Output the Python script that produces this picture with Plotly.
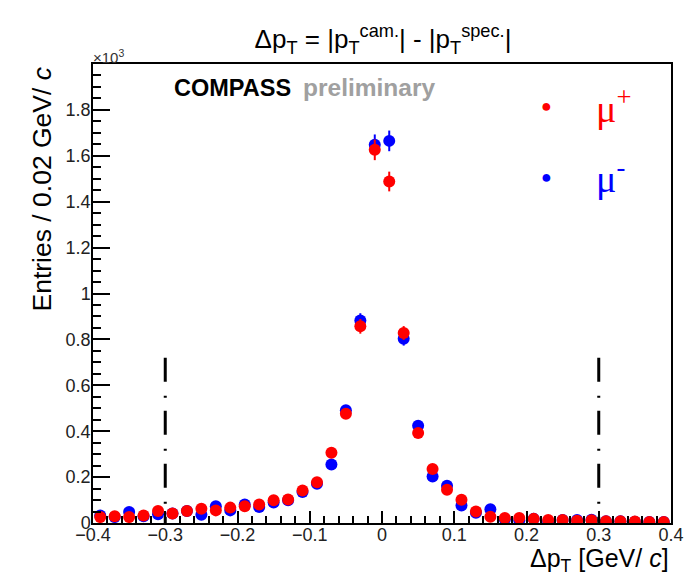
import plotly.graph_objects as go

# ---------------- data (values in units of 10^3 entries) ----------------
bin_centers = [-0.39, -0.37, -0.35, -0.33, -0.31, -0.29, -0.27, -0.25, -0.23, -0.21,
               -0.19, -0.17, -0.15, -0.13, -0.11, -0.09, -0.07, -0.05, -0.03, -0.01,
               0.01, 0.03, 0.05, 0.07, 0.09, 0.11, 0.13, 0.15, 0.17, 0.19,
               0.21, 0.23, 0.25, 0.27, 0.29, 0.31, 0.33, 0.35, 0.37, 0.39]

mu_plus = [0.026, 0.029, 0.026, 0.033, 0.052, 0.041, 0.052, 0.062, 0.055, 0.067,
           0.073, 0.081, 0.099, 0.102, 0.142, 0.178, 0.306, 0.476, 0.857, 1.626,
           1.488, 0.828, 0.392, 0.235, 0.145, 0.101, 0.050, 0.027, 0.022, 0.022,
           0.018, 0.013, 0.013, 0.010, 0.012, 0.008, 0.008, 0.007, 0.004, 0.004]

mu_plus_err = [0.005, 0.005, 0.005, 0.006, 0.007, 0.006, 0.007, 0.008, 0.007, 0.008,
               0.009, 0.009, 0.010, 0.010, 0.012, 0.013, 0.018, 0.022, 0.032, 0.045,
               0.043, 0.030, 0.020, 0.015, 0.012, 0.010, 0.007, 0.005, 0.005, 0.005,
               0.004, 0.004, 0.004, 0.003, 0.003, 0.003, 0.003, 0.003, 0.002, 0.002]

mu_minus = [0.033, 0.026, 0.048, 0.029, 0.038, 0.041, 0.052, 0.036, 0.073, 0.055,
            0.081, 0.070, 0.089, 0.099, 0.135, 0.171, 0.255, 0.491, 0.882, 1.648,
            1.665, 0.803, 0.424, 0.203, 0.162, 0.076, 0.045, 0.060, 0.016, 0.012,
            0.018, 0.006, 0.013, 0.013, 0.014, 0.008, 0.008, 0.005, 0.004, 0.004]

mu_minus_err = [0.006, 0.005, 0.007, 0.005, 0.006, 0.006, 0.007, 0.006, 0.009, 0.007,
                0.009, 0.008, 0.009, 0.010, 0.012, 0.013, 0.016, 0.022, 0.032, 0.045,
                0.045, 0.030, 0.021, 0.014, 0.013, 0.009, 0.007, 0.008, 0.004, 0.003,
                0.004, 0.002, 0.004, 0.004, 0.004, 0.003, 0.003, 0.002, 0.002, 0.002]

cut_positions = [-0.3, 0.3]
cut_height = 0.72

x_tick_vals = [-0.4, -0.3, -0.2, -0.1, 0.0, 0.1, 0.2, 0.3, 0.4]
x_tick_text = ["\u22120.4", "\u22120.3", "\u22120.2", "\u22120.1", "0", "0.1", "0.2", "0.3", "0.4"]
y_tick_vals = [0, 0.2, 0.4, 0.6, 0.8, 1.0, 1.2, 1.4, 1.6, 1.8]
y_tick_text = ["0", "0.2", "0.4", "0.6", "0.8", "1", "1.2", "1.4", "1.6", "1.8"]

RED = "#ff0000"
BLUE = "#0000ff"
SANS = "Liberation Sans, Arial, sans-serif"
SERIF = "Liberation Serif, Times New Roman, serif"

fig = go.Figure()

fig.add_trace(go.Scatter(
    x=bin_centers, y=mu_minus, mode="markers", name="mu-",
    marker=dict(color=BLUE, size=12, line=dict(width=0)),
    error_y=dict(type="data", array=mu_minus_err, color=BLUE, thickness=2, width=0),
))
fig.add_trace(go.Scatter(
    x=bin_centers, y=mu_plus, mode="markers", name="mu+",
    marker=dict(color=RED, size=12, line=dict(width=0)),
    error_y=dict(type="data", array=mu_plus_err, color=RED, thickness=2, width=0),
))

for xc in cut_positions:
    fig.add_shape(type="line", xref="x", yref="y", x0=xc, x1=xc, y0=cut_height, y1=0,
                  line=dict(color="black", width=3, dash="24px,14px,2px,13px"),
                  layer="above")

# page body has an 8px margin: figure is placed at (8, 8) on screen
OFF = 8
W, H = 692 - OFF, 583 - OFF
# plot area in screen pixels
SX0, SX1, SY0, SY1 = 93, 671, 64, 523.3
L = SX0 - OFF
R = W - (SX1 - OFF)
T = SY0 - OFF
B = H - (SY1 - OFF)
pw, ph = SX1 - SX0, SY1 - SY0


def px(xs):
    return (xs - SX0) / pw


def py(ys):
    return (SY1 - ys) / ph


annotations = [
    # x10^3 multiplier
    dict(text="\u00d710<sup>3</sup>", x=px(91), y=py(56), xref="paper", yref="paper",
         xanchor="left", yanchor="middle", showarrow=False,
         font=dict(family=SANS, size=15, color="#333")),
    # COMPASS preliminary
    dict(text="<b>COMPASS</b>", x=px(172), y=py(88), xref="paper", yref="paper",
         xanchor="left", yanchor="middle", showarrow=False,
         font=dict(family=SANS, size=23.5, color="black")),
    dict(text="<b>preliminary</b>", x=px(301), y=py(88), xref="paper", yref="paper",
         xanchor="left", yanchor="middle", showarrow=False,
         font=dict(family=SANS, size=24.5, color="#a0a0a0")),
    # legend
    dict(text="\u25cf", x=px(546), y=py(106), xref="paper", yref="paper",
         xanchor="center", yanchor="middle", showarrow=False,
         font=dict(family=SANS, size=18, color=RED)),
    dict(text="\u25cf", x=px(546), y=py(177), xref="paper", yref="paper",
         xanchor="center", yanchor="middle", showarrow=False,
         font=dict(family=SANS, size=18, color=BLUE)),
    dict(text="\u03bc<sup>+</sup>", x=px(594), y=py(106), xref="paper", yref="paper",
         xanchor="left", yanchor="middle", showarrow=False,
         font=dict(family=SERIF, size=38, color=RED)),
    dict(text="\u03bc<sup>-</sup>", x=px(594), y=py(176), xref="paper", yref="paper",
         xanchor="left", yanchor="middle", showarrow=False,
         font=dict(family=SERIF, size=38, color=BLUE)),
    # axis titles
    dict(text="\u0394p<sub>T</sub> [GeV/ <i>c</i>]", x=1.0, y=py(560), xref="paper", yref="paper",
         xanchor="right", yanchor="middle", showarrow=False,
         font=dict(family=SANS, size=25, color="black")),
    dict(text="Entries / 0.02 GeV/ <i>c</i>", x=px(42), y=py(65), xref="paper", yref="paper",
         xanchor="center", yanchor="top", showarrow=False, textangle=-90,
         font=dict(family=SANS, size=26.5, color="black")),
]

axis_common = dict(
    showgrid=False, zeroline=False, showline=True, linecolor="black", linewidth=1.5,
    mirror=True, ticks="inside", tickcolor="black", tickwidth=1.5,
    tickfont=dict(family=SANS, size=18, color="#222"),
)

fig.update_layout(
    width=W, height=H,
    margin=dict(l=L, r=R, t=T, b=B, autoexpand=False),
    paper_bgcolor="white", plot_bgcolor="white",
    showlegend=False,
    title=dict(
        text="\u0394p<sub>T</sub> = |p<sub>T</sub><sup>cam.</sup>| - |p<sub>T</sub><sup>spec.</sup>|",
        x=px(383), xref="paper", y=1 - (39 - OFF) / H, yref="container",
        xanchor="center", yanchor="middle",
        font=dict(family=SANS, size=26, color="black"),
    ),
    xaxis=dict(range=[-0.4, 0.4], tickmode="array", tickvals=x_tick_vals, ticktext=x_tick_text,
               ticklen=12, ticklabelstandoff=-5,
               minor=dict(tickmode="linear", tick0=0, dtick=0.02, ticklen=7, ticks="inside",
                          tickcolor="black", tickwidth=1.5),
               **axis_common),
    yaxis=dict(range=[0, 2.0], tickmode="array", tickvals=y_tick_vals, ticktext=y_tick_text,
               ticklen=17, ticklabelstandoff=-3,
               minor=dict(tickmode="linear", tick0=0, dtick=0.05, ticklen=8, ticks="inside",
                          tickcolor="black", tickwidth=1.5),
               **axis_common),
    annotations=annotations,
)

fig.write_html("out.html")
